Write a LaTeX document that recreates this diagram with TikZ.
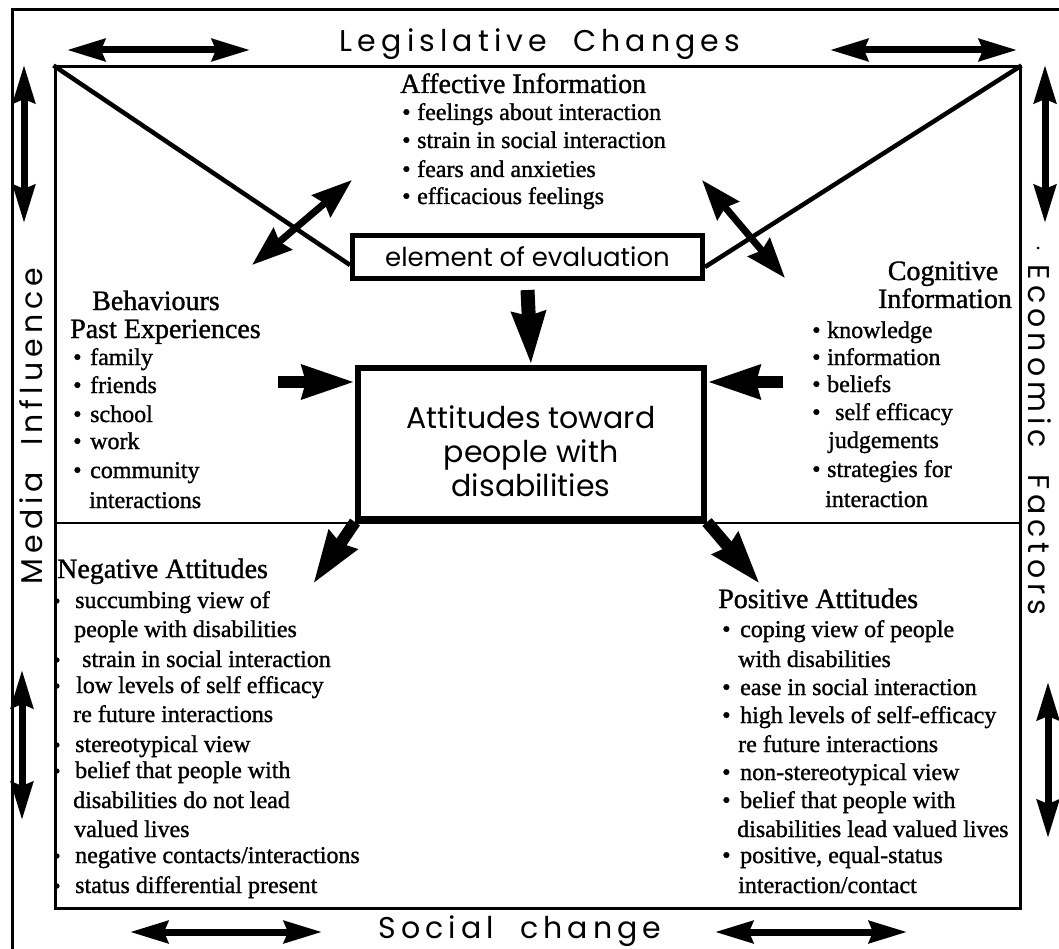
\documentclass[tikz,border=0pt]{standalone}
\usepackage{fontspec}
\setmainfont{Liberation Serif}
\newfontfamily\gsans{Poppins}
\newfontfamily\gspace{Poppins}[LetterSpace=17]
\usetikzlibrary{arrows.meta}
\newcommand\bu[1][15pt]{\makebox[#1][l]{\textbullet}}
\newcommand\wgap{\hspace{26pt}}
\begin{document}
\begin{tikzpicture}[x=1pt,y=-1pt,
  txt/.style={anchor=base west, inner sep=0pt, font=\addfontfeature{FakeBold=1.2}\fontsize{24}{28}\selectfont},
  hd/.style={anchor=base west, inner sep=0pt, font=\addfontfeature{FakeBold=1.2}\fontsize{28}{32}\selectfont},
  side/.style={inner sep=0pt, font=\gspace\fontsize{30}{34}\selectfont},
  dblarrow/.style={line width=7pt, {Stealth[length=38pt,width=22pt,inset=4pt]}-{Stealth[length=38pt,width=22pt,inset=4pt]}},
  diagarrow/.style={line width=7pt, {Stealth[length=40pt,width=28pt,inset=4pt]}-{Stealth[length=40pt,width=28pt,inset=4pt]}},
  fatarrow/.style={line width=12pt, -{Stealth[length=52pt,width=32pt,inset=3pt]}},
  blt/.style={fill=black},
]
\useasboundingbox (0,0) rectangle (1059,949);
\fill[white] (0,0) rectangle (1059,949);

% outer frame
\coordinate (ob) at (12,949);
\coordinate (otl) at (12,10);
\coordinate (otr) at (1059,10);
\draw[line width=3pt] (ob) -- (otl) -- (otr);

% inner frame
\node[draw, line width=3pt, minimum width=965pt, minimum height=841pt, inner sep=0pt] (frame) at (537.5,487.5) {};
\coordinate (dl) at (55,523);
\coordinate (dr) at (1020,523);
\draw[line width=2.5pt] (dl) -- (dr);

% element of evaluation
\node[draw, line width=5pt, minimum width=350pt, minimum height=43pt, inner sep=0pt,
      font=\gsans\fontsize{26}{30}\selectfont] (elem) at (527.5,257) {element of evaluation};

% attitudes box
\node[draw, line width=6pt, minimum width=346pt, minimum height=151pt, inner sep=0pt] (att) at (531,443.5) {};
\node[inner sep=0pt, align=center, font=\gsans\fontsize{30}{34}\selectfont] (attt) at (531,451) {Attitudes toward\\people with\\disabilities};

% diagonal lines
\draw[line width=4.5pt] (frame.north west) -- ([yshift=-8pt]elem.west);
\draw[line width=4.5pt] (frame.north east) -- ([yshift=-10pt]elem.east);

% central arrows
\draw[fatarrow, line width=14pt] ([yshift=-9pt]elem.south) -- (att.north);
\coordinate (lstart) at (278,382);
\coordinate (rstart) at (783,382);
\draw[fatarrow] (lstart) -- (att.west |- lstart);
\draw[fatarrow] (rstart) -- (att.east |- rstart);
\coordinate (ntip) at (313,584);
\coordinate (ptip) at (760,584);
\draw[fatarrow] (att.south west) -- (ntip);
\draw[fatarrow] (att.south east) -- (ptip);

% double diagonal arrows
\coordinate (a1) at (252,265);
\coordinate (a2) at (352,180);
\coordinate (b1) at (702,180);
\coordinate (b2) at (785,278);
\draw[diagarrow] (a1) -- (a2);
\draw[diagarrow] (b1) -- (b2);

% outer arrows
\coordinate (tl1) at (67,50);  \coordinate (tl2) at (250,50);
\coordinate (tr1) at (830,50); \coordinate (tr2) at (1017,50);
\coordinate (lt1) at (24,65);  \coordinate (lt2) at (24,223);
\coordinate (rt1) at (1045,65); \coordinate (rt2) at (1045,223);
\coordinate (lb1) at (22,670); \coordinate (lb2) at (22,820);
\coordinate (rb1) at (1048,682); \coordinate (rb2) at (1048,838);
\coordinate (bl1) at (130,932); \coordinate (bl2) at (322,932);
\coordinate (br1) at (715,932); \coordinate (br2) at (907,932);
\draw[dblarrow] (tl1) -- (tl2);
\draw[dblarrow] (tr1) -- (tr2);
\draw[dblarrow] (lt1) -- (lt2);
\draw[dblarrow] (rt1) -- (rt2);
\draw[dblarrow] (lb1) -- (lb2);
\draw[dblarrow] (rb1) -- (rb2);
\draw[dblarrow] (bl1) -- (bl2);
\draw[dblarrow] (br1) -- (br2);

% side labels
\node[side, anchor=base] (leg) at (540,52) {Legislative\wgap Changes};
\node[side, anchor=base] (soc) at (520,938) {Social\wgap change};
\node[side, rotate=90] (med) at (31,426) {Media\wgap Influence};
\node[side, rotate=-90] (eco) at (1040,440) {Economic\wgap Factors};
\fill (1038,248) circle (1.5pt);

% affective
\node[hd] (affh) at (400,93) {Affective Information};
\node[txt] (aff1) at (402,120) {\bu feelings about interaction};
\node[txt] (aff2) at (402,148) {\bu strain in social interaction};
\node[txt] (aff3) at (402,177) {\bu fears and anxieties};
\node[txt] (aff4) at (402,204) {\bu efficacious feelings};

% behaviours
\node[hd] (behh) at (92,310) {Behaviours};
\node[hd] (pasth) at (70,338) {Past Experiences};
\node[txt] (beh1) at (73,365) {\bu[17pt]family};
\node[txt] (beh2) at (73,393) {\bu[17pt]friends};
\node[txt] (beh3) at (73,422) {\bu[17pt]school};
\node[txt] (beh4) at (73,449) {\bu[17pt]work};
\node[txt] (beh5) at (73,478) {\bu[17pt]community};
\node[txt] (beh6) at (89,508) {interactions};

% cognitive
\node[hd, anchor=base] (cogh1) at (943,280) {Cognitive};
\node[hd, anchor=base] (cogh2) at (945,308) {Information};
\node[txt] (cog1) at (812,338) {\bu knowledge};
\node[txt] (cog2) at (812,365) {\bu information};
\node[txt] (cog3) at (812,392) {\bu beliefs};
\node[txt] (cog4) at (812,420) {\bu[23pt]self efficacy};
\node[txt] (cog5) at (828,448) {judgements};
\node[txt] (cog6) at (812,477) {\bu strategies for};
\node[txt] (cog7) at (825,507) {interaction};

% negative
\node[hd] (negh) at (57,578) {Negative Attitudes};
\node[txt] (neg1) at (75,608) {succumbing view of};
\node[txt] (neg2) at (74,637) {people with disabilities};
\node[txt] (neg3) at (82,667) {strain in social interaction};
\node[txt] (neg4) at (76,693) {low levels of self efficacy};
\node[txt] (neg5) at (73,722) {re future interactions};
\node[txt] (neg6) at (75,752) {stereotypical view};
\node[txt] (neg7) at (75,778) {belief that people with};
\node[txt] (neg8) at (73,808) {disabilities do not lead};
\node[txt] (neg9) at (74,837) {valued lives};
\node[txt] (neg10) at (75,863) {negative contacts/interactions};
\node[txt] (neg11) at (75,893) {status differential present};
\foreach \yy in {608,667,693,752,778,863,893}
  \fill[blt] (57,\yy-7) circle (2.6pt);

% positive
\node[hd] (posh) at (718,608) {Positive Attitudes};
\node[txt] (pos1) at (722,637) {\bu[18pt]coping view of people};
\node[txt] (pos2) at (738,667) {with disabilities};
\node[txt] (pos3) at (722,695) {\bu[18pt]ease in social interaction};
\node[txt] (pos4) at (722,723) {\bu[18pt]high levels of self-efficacy};
\node[txt] (pos5) at (738,752) {re future interactions};
\node[txt] (pos6) at (722,780) {\bu[18pt]non-stereotypical view};
\node[txt] (pos7) at (722,808) {\bu[18pt]belief that people with};
\node[txt] (pos8) at (737,837) {disabilities lead valued lives};
\node[txt] (pos9) at (722,863) {\bu[18pt]positive, equal-status};
\node[txt] (pos10) at (738,893) {interaction/contact};
\end{tikzpicture}
\end{document}
